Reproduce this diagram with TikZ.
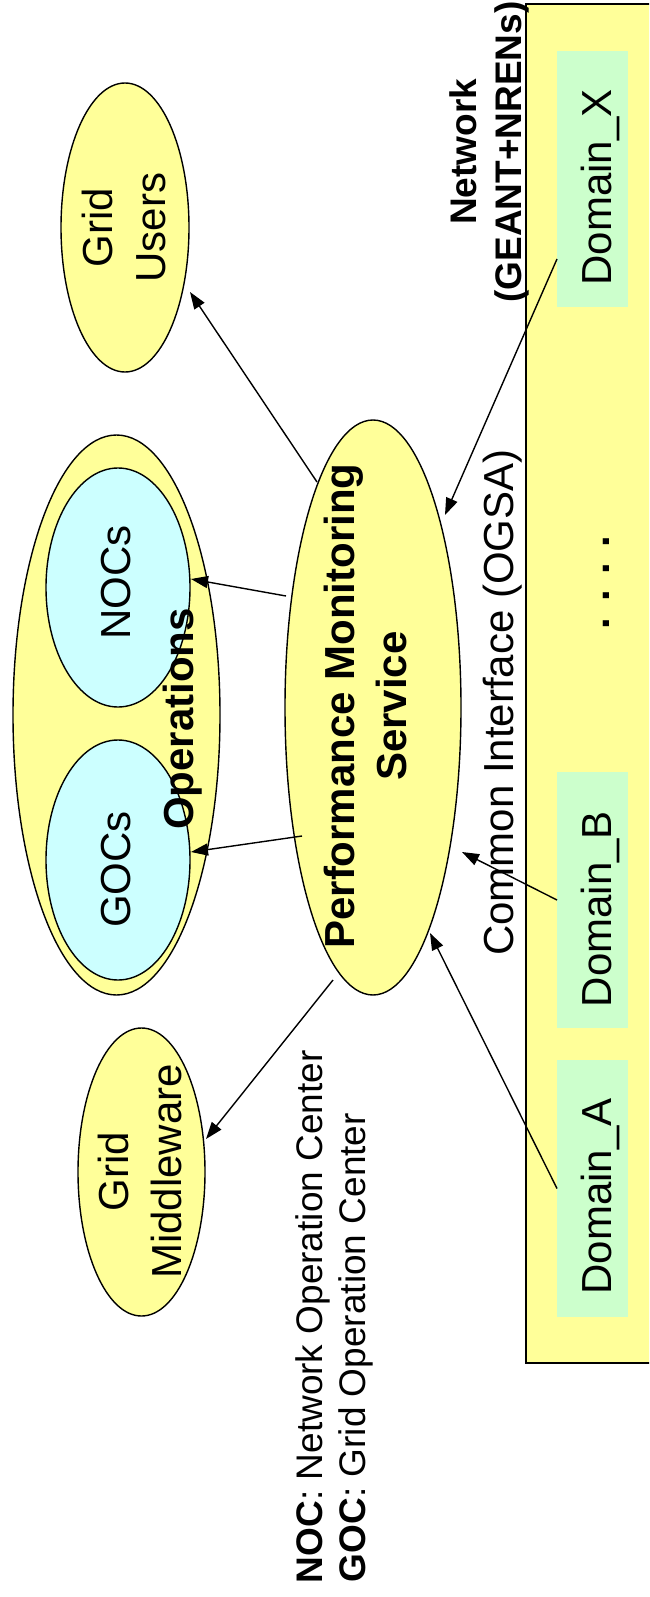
\documentclass[tikz,border=0pt]{standalone}
\usepackage{fontspec}
\setmainfont{Liberation Sans}
\usetikzlibrary{shapes.geometric,arrows.meta}
\definecolor{yel}{HTML}{FFFF99}
\definecolor{cyn}{HTML}{CCFFFF}
\definecolor{grn}{HTML}{CCFFCC}
\tikzset{
  oval/.style={ellipse, draw=black, line width=1.4pt, inner sep=0pt, outer sep=0pt},
  lbl/.style={rotate=90, inner sep=0pt, outer sep=0pt, font=\fontsize{42}{53}\selectfont},
  blbl/.style={rotate=90, inner sep=0pt, outer sep=0pt, font=\fontsize{42}{52}\selectfont\bfseries},
  leg/.style={rotate=90, inner sep=0pt, outer sep=0pt, font=\fontsize{37}{44}\selectfont, anchor=base west},
  conn/.style={line width=1.4pt, -{Triangle[length=17pt,width=12pt]}},
  dombox/.style={rectangle, fill=grn, minimum width=71pt, minimum height=256pt, inner sep=0pt, outer sep=0pt},
  netbox/.style={fill=yel, draw=black, line width=1.6pt}
}
\begin{document}
\begin{tikzpicture}[x=1pt,y=-1pt]
\useasboundingbox (0,0) rectangle (649,1597);
\clip (0,0) rectangle (649,1597);
% network area
\draw[netbox] (526,4) rectangle (720,1363);
\node[dombox] (domX) at (592.5,179) {};
\node[dombox] (domB) at (592.5,900) {};
\node[dombox, minimum height=257pt] (domA) at (592.5,1188.5) {};
\node[lbl, anchor=base] (domXt) at (611,187.5) {Domain\_X};
\node[lbl, anchor=base] (domBt) at (611,909) {Domain\_B};
\node[lbl, anchor=base] (domAt) at (611,1196.5) {Domain\_A};
\node[blbl, anchor=base] (dots) at (609,582.5) {. . . .};
\node[rotate=90, inner sep=0pt, align=center, font=\fontsize{37}{45}\selectfont\bfseries] (nett) at (489,152) {Network\\(GEANT+NRENs)};
\node[lbl, anchor=base] (ogsa) at (513,702.5) {Common Interface (OGSA)};
% users
\node[oval, fill=yel, minimum width=128pt, minimum height=289pt] (users) at (125,227.5) {};
\node[lbl, align=center] (userst) at (124.3,227.5) {Grid\\Users};
% operations
\node[oval, fill=yel, minimum width=207pt, minimum height=560pt] (ops) at (116.5,715) {};
\node[oval, fill=cyn, minimum width=144pt, minimum height=239pt] (nocs) at (118,587.5) {};
\node[oval, fill=cyn, minimum width=144pt, minimum height=240pt] (gocs) at (118,860) {};
\node[lbl, anchor=base] (nocst) at (130,582.5) {NOCs};
\node[lbl, anchor=base] (gocst) at (130,869.5) {GOCs};
\node[blbl, anchor=base] (opst) at (193,719) {Operations};
% performance monitoring service
\node[oval, fill=yel, minimum width=176pt, minimum height=575pt] (pms) at (373,707.5) {};
\node[blbl, align=center] (pmst) at (365,706) {Performance Monitoring\\Service};
% middleware
\node[oval, fill=yel, minimum width=127pt, minimum height=288pt] (mid) at (141.5,1172) {};
\node[lbl, align=center] (midt) at (140.3,1171.5) {Grid\\Middleware};
% legend
\node[leg] (noc) at (322,1583) {\textbf{NOC}: Network Operation Center};
\node[leg] (goc) at (365,1582) {\textbf{GOC}: Grid Operation Center};
% connectors
\draw[conn] ([shift={(-56,-225.5)}]pms.center) -- ([shift={(65,64.5)}]users.center);
\draw[conn] ([shift={(0,80)}]domX.west) -- ([shift={(72,-192.5)}]pms.center);
\draw[conn] ([shift={(-87,-111.5)}]pms.center) -- ([shift={(73,-8.5)}]nocs.center);
\draw[conn] ([shift={(-71,128.5)}]pms.center) -- ([shift={(73,-8)}]gocs.center);
\draw[conn] (domB.west) -- ([shift={(89,144.5)}]pms.center);
\draw[conn] (domA.west) -- ([shift={(57,225.5)}]pms.center);
\draw[conn] ([shift={(-40,272.5)}]pms.center) -- ([shift={(64.5,-33)}]mid.center);
\end{tikzpicture}
\end{document}
